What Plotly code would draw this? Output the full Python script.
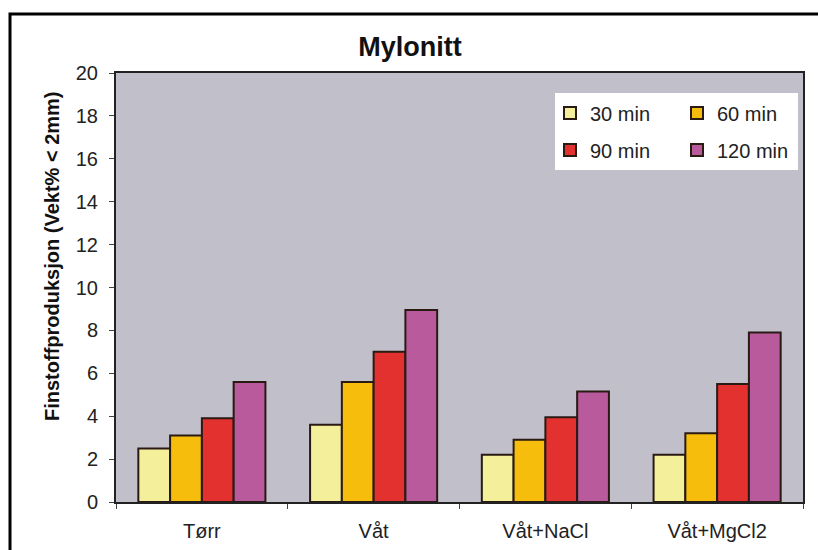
import plotly.graph_objects as go

categories = ["Tørr", "Våt", "Våt+NaCl", "Våt+MgCl2"]
series_names = ["30 min", "60 min", "90 min", "120 min"]
v30 = [2.5, 3.6, 2.2, 2.2]
v60 = [3.1, 5.6, 2.9, 3.2]
v90 = [3.9, 7.0, 3.95, 5.5]
v120 = [5.6, 8.95, 5.15, 7.9]
colors = ["#F4EF9A", "#F6BD0C", "#E3312F", "#B85A9C"]
legend_rows = ["legend", "legend", "legend2", "legend2"]
y_title = "<b>Finstoffproduksjon (Vekt% < 2mm)</b>"

W, H = 818, 550
ML, MR, MT, MB = 116, 15, 73, 48
pw, ph = W - ML - MR, H - MT - MB


def px_x(p):
    return (p - ML) / pw


def px_y(p):
    return (H - MB - p) / ph


fig = go.Figure()
for name, vals, col, lg in zip(series_names, [v30, v60, v90, v120], colors, legend_rows):
    fig.add_trace(go.Bar(
        x=categories, y=vals, name=name, legend=lg,
        marker=dict(color=col, line=dict(color="#2a1a14", width=2)),
    ))

# outer chart frame
fig.add_shape(type="rect", xref="paper", yref="paper",
              x0=px_x(10), x1=px_x(830), y0=px_y(14), y1=px_y(570),
              line=dict(color="black", width=3), fillcolor="rgba(0,0,0,0)",
              layer="below")
# white legend box
fig.add_shape(type="rect", xref="paper", yref="paper",
              x0=px_x(555), x1=px_x(798), y0=px_y(93), y1=px_y(170),
              line=dict(width=0), fillcolor="white", layer="below")

# vertical axis title
fig.add_annotation(text=y_title, xref="paper", yref="paper",
                   x=px_x(52), y=px_y(257), xanchor="center", yanchor="middle",
                   textangle=-90, showarrow=False,
                   font=dict(size=20, color="#111"))

leg_common = dict(orientation="h", xanchor="left", yanchor="middle",
                  bgcolor="rgba(0,0,0,0)", entrywidth=82, itemwidth=30,
                  font=dict(size=20, color="#222"))

fig.update_layout(
    width=W, height=H,
    margin=dict(l=ML, r=MR, t=MT, b=MB, autoexpand=False),
    paper_bgcolor="white",
    plot_bgcolor="#C0BFCA",
    barmode="group",
    bargap=0.26,
    bargroupgap=0,
    font=dict(family="Liberation Sans, Arial, sans-serif", color="#222"),
    title=dict(text="<b>Mylonitt</b>", x=px_x(410), xref="paper", xanchor="center",
               y=1 - 47 / H, yanchor="middle", font=dict(size=27, color="#111")),
    legend=dict(x=px_x(550), y=px_y(113), **leg_common),
    legend2=dict(x=px_x(550), y=px_y(150), **leg_common),
    showlegend=True,
)
fig.update_xaxes(
    automargin=False,
    showline=True, linecolor="#222", linewidth=2, mirror=True,
    ticks="outside", tickson="boundaries", ticklen=5, tickcolor="#444",
    ticklabelstandoff=10,
    tickfont=dict(size=20, color="#222"),
)
fig.update_yaxes(
    automargin=False,
    range=[0, 20], dtick=2, showgrid=False, zeroline=False,
    showline=True, linecolor="#222", linewidth=2, mirror=True,
    ticks="outside", ticklen=5, tickcolor="#444",
    ticklabelstandoff=7,
    tickfont=dict(size=20, color="#222"),
)

fig.write_html("out.html")
